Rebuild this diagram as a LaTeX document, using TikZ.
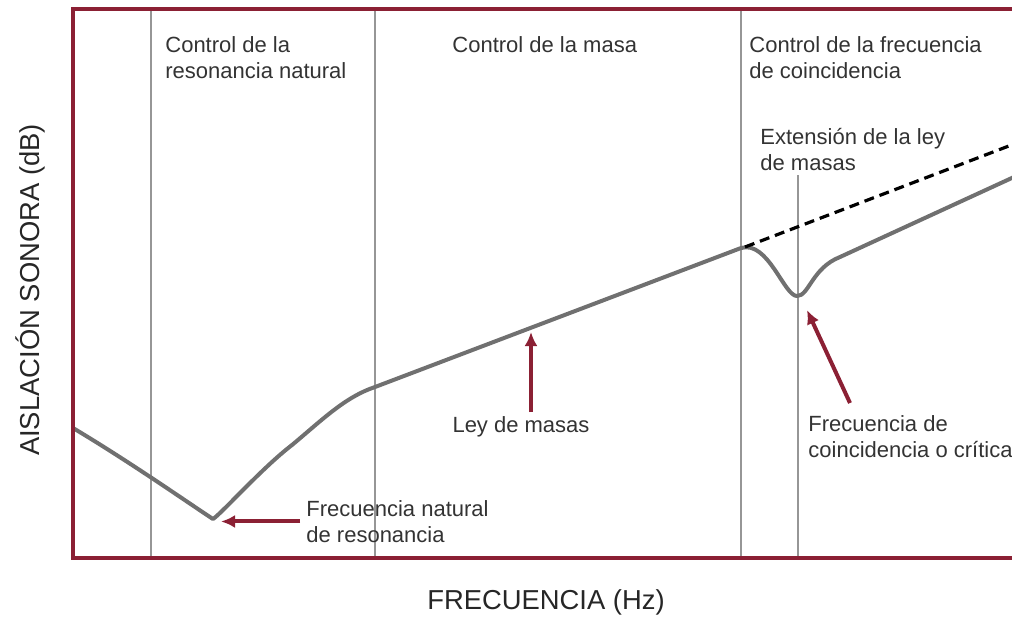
\documentclass[tikz,border=0pt]{standalone}
\usepackage{fontspec}
\setmainfont{Liberation Sans}
\usepackage{xcolor}
\usetikzlibrary{arrows.meta,positioning,calc}
\definecolor{granate}{RGB}{139,32,52}
\definecolor{grisc}{RGB}{112,112,112}
\definecolor{grisl}{RGB}{150,150,150}
\tikzstyle{texto} = [inner sep=0pt, align=left, text=black!80, font=\fontsize{11}{13}\selectfont]
\tikzstyle{eje} = [inner sep=0pt, text=black!85, font=\fontsize{13.7}{15}\selectfont]
\tikzstyle{flecha} = [draw=granate, line width=2pt, -{Latex[length=7pt,width=6.5pt]}]
\tikzstyle{division} = [draw=grisl, line width=0.8pt]

\begin{document}
\begin{tikzpicture}[x=0.5pt,y=-0.5pt]
    \useasboundingbox (0,0) rectangle (1012,617);
    % zonas
    \draw[division] (151,9) -- (151,558);
    \draw[division] (375,9) -- (375,558);
    \draw[division] (741,9) -- (741,558);
    \draw[division] (798,175) -- (798,558);
    % curva de aislamiento
    \coordinate (pmin) at (221,521);
    \coordinate (pmasa) at (531,332);
    \coordinate (pcrit) at (807,310);
    \draw[grisc, line width=2pt, line join=round]
        (73,428) .. controls (130,462) and (190,504) .. (213,519)
        .. controls (222,513) and (262,468) .. (292,445)
        .. controls (322,420) and (345,397) .. (375,387)
        -- (741,248)
        .. controls (768,240) and (784,296) .. (797,296)
        .. controls (809,296) and (812,268) .. (840,257)
        -- (1014,177);
    \draw[black, line width=1.6pt, dash pattern=on 5pt off 3pt] (745,247) -- (1014,144);
    % marco
    \draw[granate, line width=2pt] (73,9) rectangle (1016,558);
    % textos
    \node[texto, anchor=north west] (zona1) at (165,36) {Control de la\\resonancia natural};
    \node[texto, anchor=north west] (zona2) at (452,36) {Control de la masa};
    \node[texto, anchor=north west] (zona3) at (749,36) {Control de la frecuencia\\de coincidencia};
    \node[texto, anchor=north west] (extension) at (760,128) {Extensión de la ley\\de masas};
    \node[texto, anchor=north] (ley) at (521,416) {Ley de masas};
    \node[texto, anchor=north west] (natural) at (306,500) {Frecuencia natural\\de resonancia};
    \node[texto, anchor=north west] (crit) at (808,415) {Frecuencia de\\coincidencia o crítica};
    \node[eje] (xlabel) at (546,602) {FRECUENCIA (Hz)};
    \node[eje, rotate=90] (ylabel) at (30,290) {AISLACIÓN SONORA (dB)};
    % flechas
    \draw[flecha] ([xshift=-3pt]natural.west) -- (natural.west -| pmin);
    \draw[flecha] ([yshift=2pt]pmasa |- ley.north) -- (pmasa);
    \draw[flecha] ([shift={(21pt,6pt)}]crit.north west) -- (pcrit);
\end{tikzpicture}
\end{document}
